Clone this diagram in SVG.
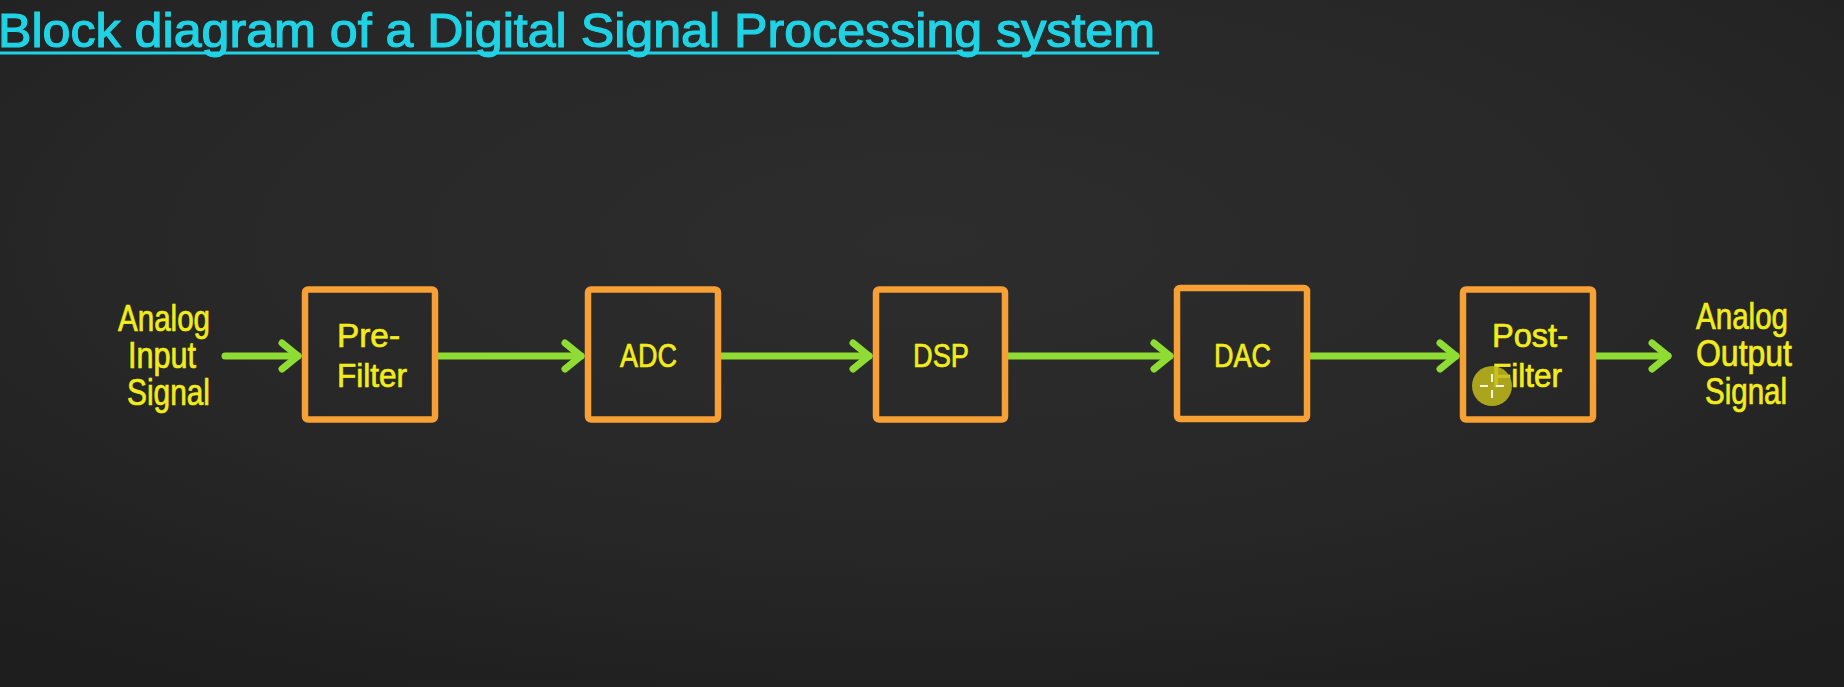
<svg xmlns="http://www.w3.org/2000/svg" width="1844" height="687" viewBox="0 0 1844 687">
  <defs>
    <radialGradient id="bg" cx="50%" cy="35%" r="75%">
      <stop offset="0" stop-color="#2d2d2d"/>
      <stop offset="0.6" stop-color="#272727"/>
      <stop offset="1" stop-color="#1e1e1e"/>
    </radialGradient>
    <marker id="chev" markerUnits="userSpaceOnUse" markerWidth="40" markerHeight="40" refX="0" refY="0" viewBox="-25 -20 30 40" orient="auto" overflow="visible">
      <path d="M-16,-13 L0,0 L-16,13" fill="none" stroke="#8fdc35" stroke-width="7" stroke-linecap="round" stroke-linejoin="round"/>
    </marker>
    <style>
      .box { fill: none; stroke: #f7a035; stroke-width: 6.5; stroke-linejoin: round; }
      .lbl { font-family: "Liberation Sans", "Open Sans", sans-serif; font-size: 34px; fill: #f2ec1a; stroke: #f2ec1a; stroke-width: 0.7; }
      .side { font-family: "Liberation Sans", "Open Sans", sans-serif; font-size: 36px; fill: #f2ec1a; stroke: #f2ec1a; stroke-width: 0.7; }
      .conn { stroke: #8fdc35; stroke-width: 7; stroke-linecap: round; fill: none; marker-end: url(#chev); }
      .title { font-family: "Liberation Sans", "Open Sans", sans-serif; font-size: 48px; fill: #1fd3e5; stroke: #1fd3e5; stroke-width: 1.2; }
    </style>
  </defs>

  <rect x="0" y="0" width="1844" height="687" fill="url(#bg)"/>

  <g id="title">
    <text class="title" x="-2" y="47" textLength="1157" lengthAdjust="spacingAndGlyphs">Block diagram of a Digital Signal Processing system</text>
    <line x1="0" y1="53" x2="1159" y2="53" stroke="#1fd3e5" stroke-width="3"/>
  </g>

  <g id="connectors">
    <path class="conn" d="M225,356 H298"/>
    <path class="conn" d="M438,356 H581"/>
    <path class="conn" d="M721,356 H869"/>
    <path class="conn" d="M1008,356 H1170"/>
    <path class="conn" d="M1310,356 H1456"/>
    <path class="conn" d="M1596,356 H1668"/>
  </g>

  <g id="input-label">
    <text class="side" x="118" y="331" textLength="92" lengthAdjust="spacingAndGlyphs">Analog</text>
    <text class="side" x="128" y="368" textLength="68" lengthAdjust="spacingAndGlyphs">Input</text>
    <text class="side" x="127" y="405" textLength="83" lengthAdjust="spacingAndGlyphs">Signal</text>
  </g>

  <g id="pre-filter">
    <rect class="box" x="305" y="289.5" width="130" height="130" rx="3"/>
    <text class="lbl" x="337" y="347" textLength="63" lengthAdjust="spacingAndGlyphs">Pre-</text>
    <text class="lbl" x="337" y="387" textLength="70" lengthAdjust="spacingAndGlyphs">Filter</text>
  </g>

  <g id="adc">
    <rect class="box" x="588" y="289.5" width="130" height="130" rx="3"/>
    <text class="lbl" x="620" y="367" textLength="57" lengthAdjust="spacingAndGlyphs">ADC</text>
  </g>

  <g id="dsp">
    <rect class="box" x="876" y="289.5" width="129" height="130" rx="3"/>
    <text class="lbl" x="913" y="367" textLength="56" lengthAdjust="spacingAndGlyphs">DSP</text>
  </g>

  <g id="dac">
    <rect class="box" x="1177" y="288" width="130" height="131" rx="3"/>
    <text class="lbl" x="1214" y="367" textLength="57" lengthAdjust="spacingAndGlyphs">DAC</text>
  </g>

  <g id="post-filter">
    <rect class="box" x="1463" y="289.5" width="130" height="130" rx="3"/>
    <text class="lbl" x="1492" y="347" textLength="76" lengthAdjust="spacingAndGlyphs">Post-</text>
    <text class="lbl" x="1492" y="387" textLength="70" lengthAdjust="spacingAndGlyphs">Filter</text>
  </g>

  <g id="output-label">
    <text class="side" x="1696" y="329" textLength="92" lengthAdjust="spacingAndGlyphs">Analog</text>
    <text class="side" x="1696" y="366" textLength="96" lengthAdjust="spacingAndGlyphs">Output</text>
    <text class="side" x="1705" y="404" textLength="82" lengthAdjust="spacingAndGlyphs">Signal</text>
  </g>

  <g id="cursor">
    <circle cx="1492" cy="386" r="20" fill="#c2bb1c" opacity="0.85"/>
    <path d="M1480,386 H1488 M1496,386 H1504 M1492,374 V382 M1492,390 V398" stroke="#f4f4e0" stroke-width="2" fill="none"/>
  </g>
</svg>
